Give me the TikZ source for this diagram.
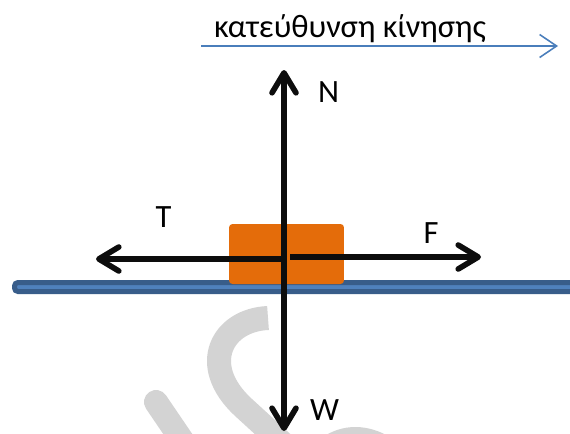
\documentclass[tikz,border=0pt]{standalone}
\usepackage{fontspec}
\setmainfont{Carlito}
\usepackage{tikz}
\usetikzlibrary{arrows.meta, positioning}
\definecolor{boxOrange}{HTML}{E46C0A}
\definecolor{groundBlue}{HTML}{4F81BD}
\definecolor{groundEdge}{HTML}{385D8A}
\definecolor{dirBlue}{HTML}{4A7EBB}
\definecolor{markGray}{HTML}{D3D3D3}

\begin{document}
\begin{tikzpicture}[
    x=0.02cm, y=-0.02cm,
    force/.style={line width=3.2pt, draw=black!95, -{Straight Barb[length=4mm, width=4.8mm, line cap=round, line join=round]}},
    txt/.style={font=\fontsize{18.5}{22}\selectfont, anchor=base, inner sep=0pt},
    watermark/.style={draw=markGray, line width=0.48cm},
]
    \useasboundingbox (0,0) rectangle (570,433);
    \begin{scope}
        \clip (0,0) rectangle (570,433);
        \draw[watermark, line cap=butt] (268,318) .. controls (222,320) and (198,365) .. (243,407) -- (290,450);
        \draw[watermark, line cap=round] (156,402) -- (190,452);
        \draw[watermark] (328,448) .. controls (345,436) and (365,436) .. (385,448);
        \draw[groundEdge, fill=groundBlue, line width=0.1cm, rounded corners=2pt] (14.5,282.5) rectangle (600,291.5);
    \end{scope}
    \node[fill=boxOrange, rounded corners=2pt, minimum width=2.3cm, minimum height=1.2cm, inner sep=0pt] (body) at (286.5,254) {};

    \coordinate (O) at (284,257);
    \coordinate (nTip) at (284,70);
    \coordinate (wTip) at (284,431);
    \coordinate (tStart) at (283,259);
    \coordinate (tTip) at (96,259);
    \coordinate (fStart) at (290,257);
    \coordinate (fTip) at (481,257);
    \draw[force] (O) -- (nTip);
    \draw[force] (O) -- (wTip);
    \draw[force] (tStart) -- (tTip);
    \draw[force] (fStart) -- (fTip);

    \node[txt] (nLab) at (328.5,102) {N};
    \node[txt] (wLab) at (324.5,420) {W};
    \node[txt] (tLab) at (163.5,227) {T};
    \node[txt] (fLab) at (431,243) {F};

    \node[txt] (dirText) at (350,37) {κατεύθυνση κίνησης};
    \coordinate (dirStart) at (201,46);
    \coordinate (dirEnd) at (558,46);
    \draw[dirBlue, line width=0.9pt, -{Straight Barb[length=3.4mm, width=4.6mm]}] (dirStart) -- (dirEnd);
\end{tikzpicture}
\end{document}
